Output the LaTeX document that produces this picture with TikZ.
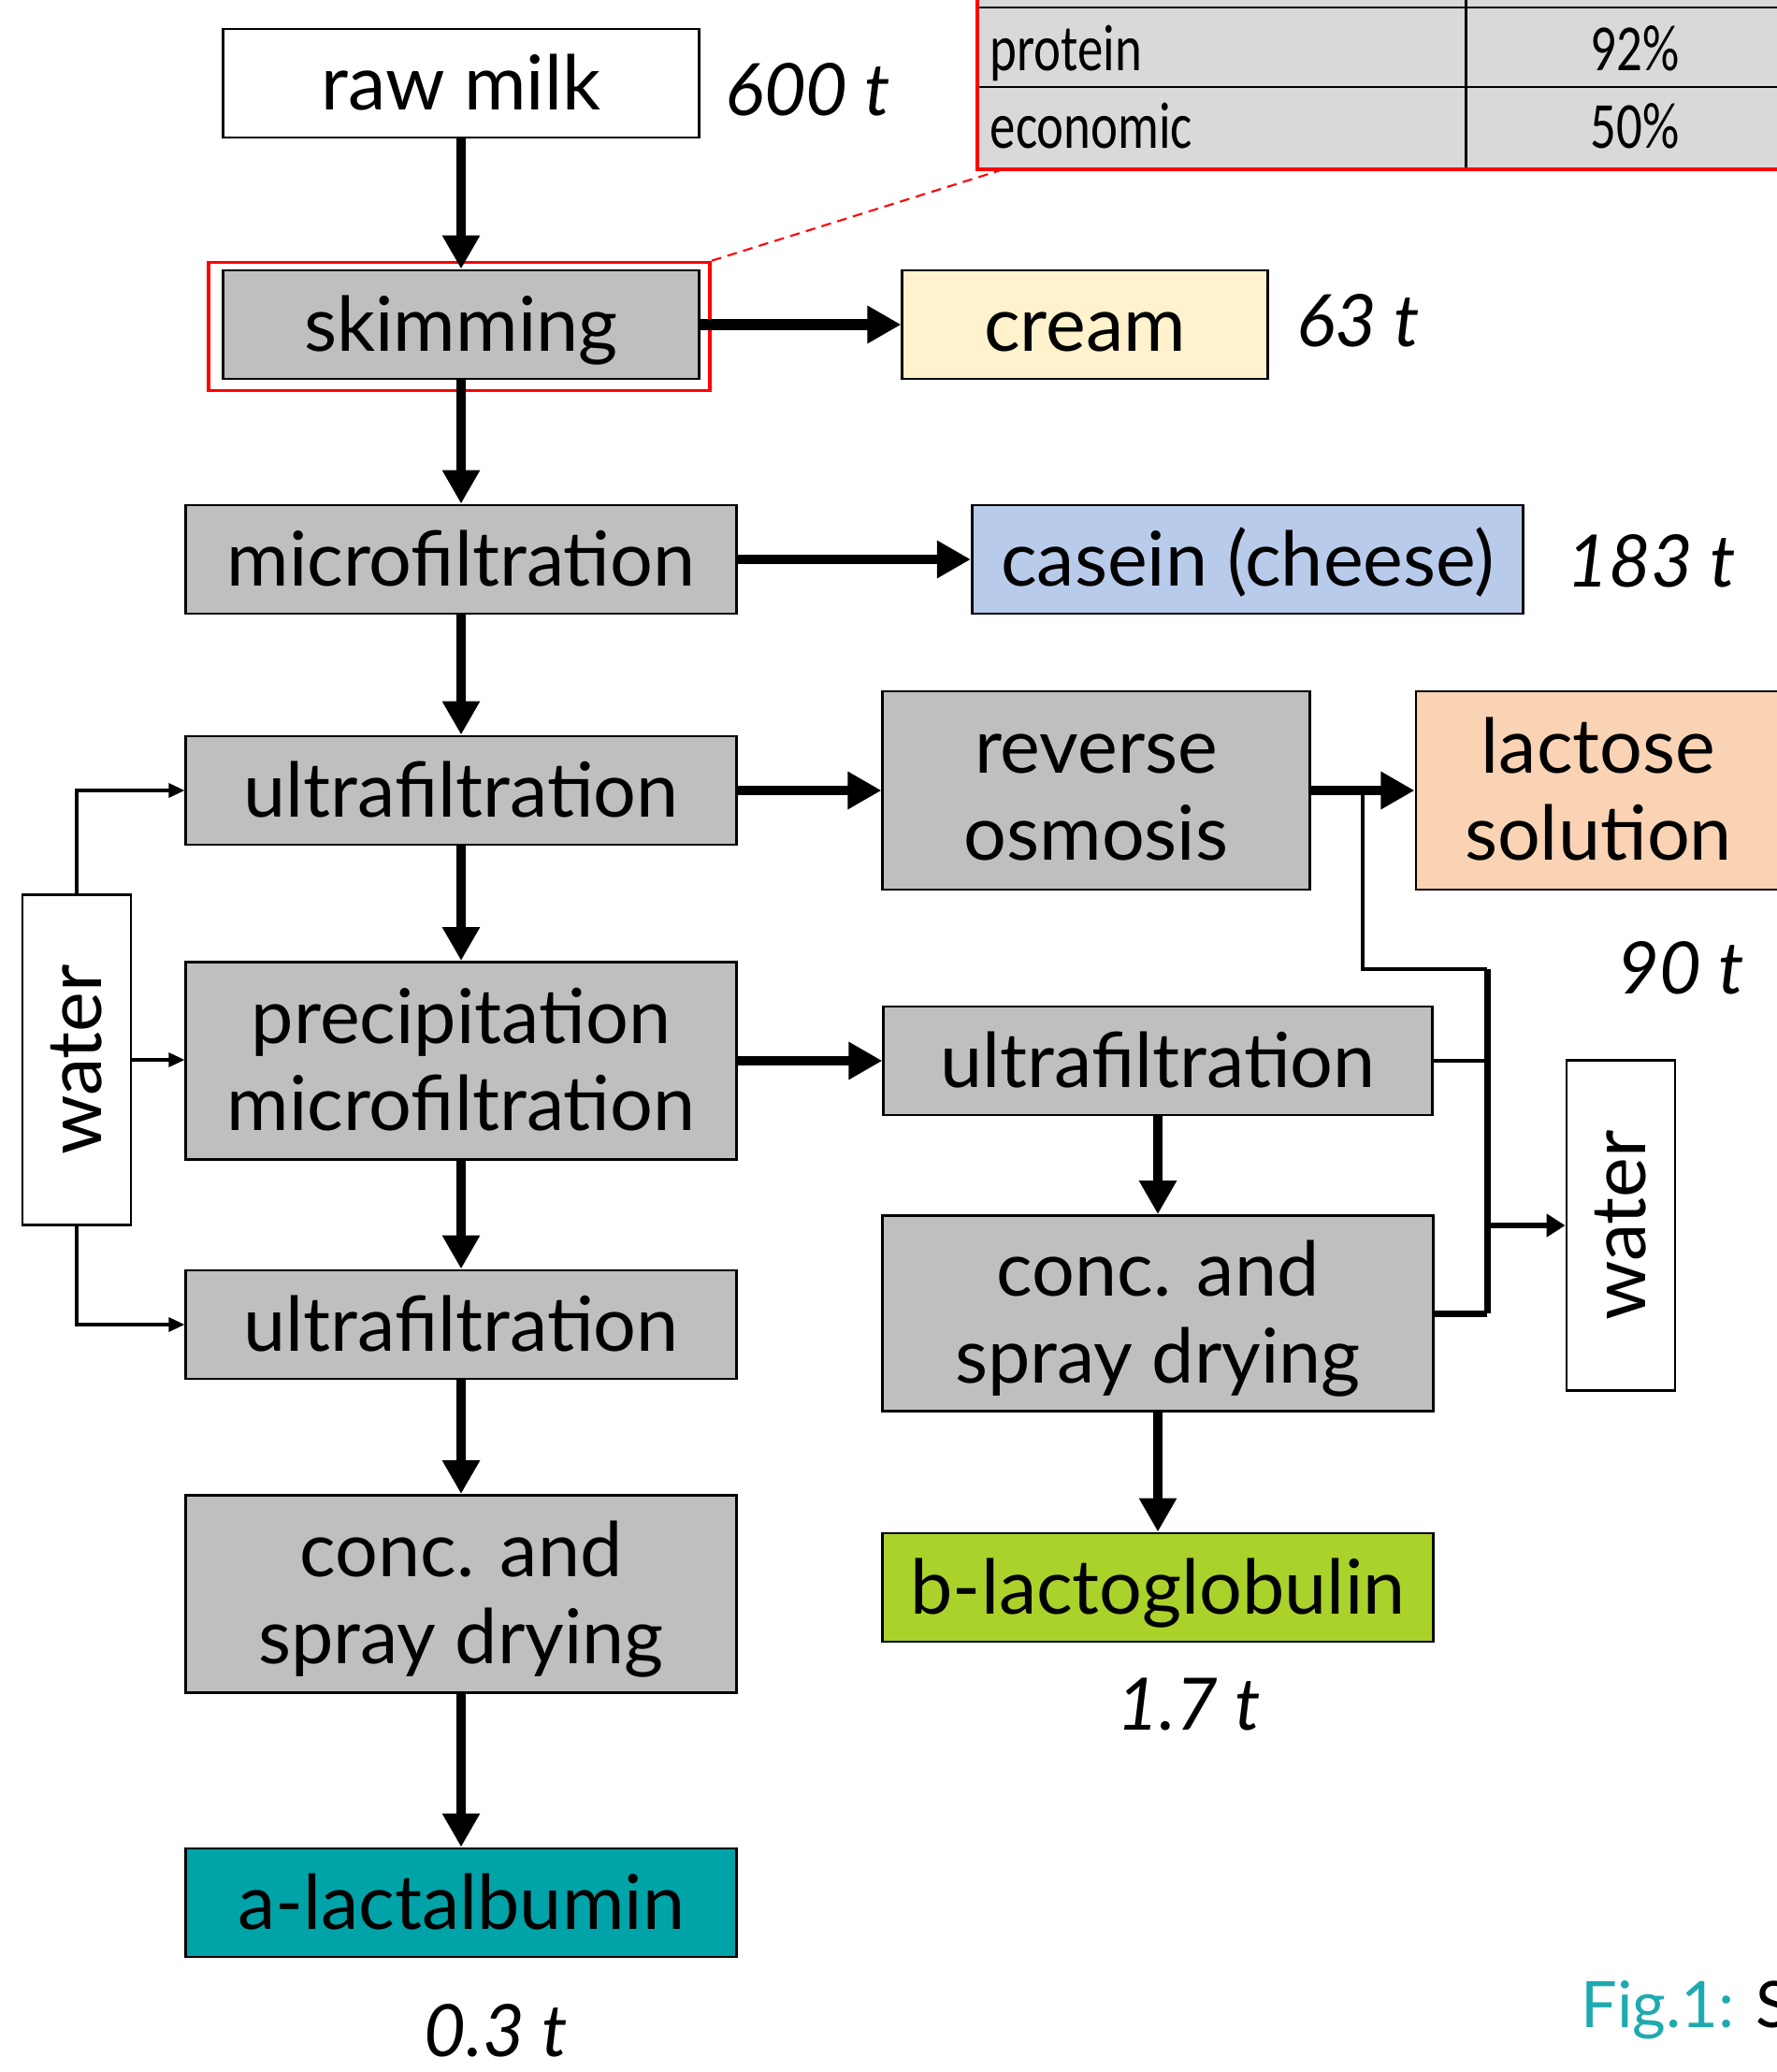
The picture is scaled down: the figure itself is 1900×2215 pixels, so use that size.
\documentclass[tikz,border=0pt]{standalone}
\usepackage{fontspec}
\setmainfont{Lato}
\newfontfamily\tablefont[FakeStretch=0.78]{Carlito}
\usepackage{xcolor}
\usepackage{tikz}
\usetikzlibrary{arrows.meta, positioning, calc}
\definecolor{procgray}{HTML}{BFBFBF}
\definecolor{creamfill}{HTML}{FFF2CC}
\definecolor{caseinfill}{HTML}{B9CBEA}
\definecolor{lactosefill}{HTML}{F9D3B3}
\definecolor{globulinfill}{HTML}{AAD22B}
\definecolor{albuminfill}{HTML}{00A3A7}
\definecolor{tablegray}{HTML}{D9D9D9}
\definecolor{figteal}{HTML}{1FAAAF}
% zweizeiliger Text mit festen Grundlinien
\newcommand{\twolines}[2]{\rule{0pt}{20.7pt}#1\\#2\rule[-5pt]{0pt}{5pt}}

\begin{document}
\begin{tikzpicture}[x=0.01cm, y=-0.01cm, font=\fontsize{23}{26.5}\selectfont]
  \tikzset{
    proc/.style={draw, line width=0.8pt, fill=procgray, inner sep=0pt,
      minimum width=5.88cm, minimum height=1.16cm, text height=0.56cm, text depth=0pt},
    tallproc/.style={draw, line width=0.8pt, fill=procgray, inner sep=0pt,
      minimum width=5.88cm, minimum height=2.11cm, align=center},
    waterbox/.style={draw, line width=0.8pt, fill=white, inner sep=0pt,
      minimum width=1.16cm, minimum height=3.53cm},
    amount/.style={font=\fontsize{22}{26.5}\selectfont\itshape},
    flow/.style={-{Triangle[length=0.36cm, width=0.38cm]}, line width=3pt},
    feed/.style={-{Triangle[length=0.17cm, width=0.15cm]}, line width=0.9pt},
  }
  \useasboundingbox (0, 0) rectangle (1900, 2215);

  % Allokationstabelle (oben abgeschnitten)
  \begin{scope}[font=\tablefont\fontsize{20}{23}\selectfont]
    \fill[tablegray] (1045, -30) rectangle (1950, 181);
    \draw[line width=0.85pt] (1045, 8) -- (1950, 8);
    \draw[line width=0.85pt] (1045, 93) -- (1950, 93);
    \draw[line width=0.85pt] (1567, -30) -- (1567, 181);
    \node[anchor=base west, inner sep=0pt] (protein) at (1058, 75) {protein};
    \node[anchor=base, inner sep=0pt] (proteinval) at (1748, 75) {92\%};
    \node[anchor=base west, inner sep=0pt] (economic) at (1058, 158) {economic};
    \node[anchor=base, inner sep=0pt] (economicval) at (1748, 158) {50\%};
    \draw[red, line width=1.4pt] (1045, -30) rectangle (1950, 181);
    \coordinate (tablecorner) at (1073, 181);
  \end{scope}

  % 1. Hauptlinie links
  \node[proc, fill=white, minimum width=5.08cm] (rawmilk) at (493, 89) {raw milk};
  \node[amount] (rawamount) at (864, 96) {600 t};
  \node[proc, minimum width=5.08cm] (skimming) at (493, 347) {skimming};
  \node[draw=red, line width=1pt, minimum width=5.36cm, minimum height=1.37cm] (skimframe) at (491, 349) {};
  \node[proc] (micro) at (493, 598) {microfiltration};
  \node[proc] (uf1) at (493, 845) {ultrafiltration};
  \node[tallproc] (precip) at (493, 1134) {\twolines{precipitation}{microfiltration}};
  \node[proc] (uf3) at (493, 1416) {ultrafiltration};
  \node[tallproc] (spray1) at (493, 1704) {\twolines{conc. and}{spray drying}};
  \node[proc, fill=albuminfill] (albumin) at (493, 2034) {a-lactalbumin};
  \node[amount] (albuminamount) at (530, 2171) {0.3 t};
  \node[waterbox] (water1) at (82, 1133) {\rotatebox{90}{water}};

  % 2. Nebenprodukte rechts
  \node[proc, fill=creamfill, minimum width=3.9cm] (cream) at (1160, 347) {cream};
  \node[amount] (creamamount) at (1452, 343) {63 t};
  \node[proc, fill=caseinfill, minimum width=5.89cm] (casein) at (1334, 598) {casein (cheese)};
  \node[amount] (caseinamount) at (1766, 600) {183 t};
  \node[tallproc, minimum width=4.56cm, minimum height=2.12cm] (osmosis) at (1172, 845) {\twolines{reverse}{osmosis}};
  \node[tallproc, fill=lactosefill, minimum width=3.9cm, minimum height=2.12cm] (lactose) at (1709, 845) {\twolines{lactose}{solution}};
  \node[amount] (lactoseamount) at (1797, 1035) {90 t};
  \node[proc, minimum width=5.86cm] (uf2) at (1238, 1134) {ultrafiltration};
  \node[tallproc, minimum height=2.09cm] (spray2) at (1238, 1404) {\twolines{conc. and}{spray drying}};
  \node[proc, fill=globulinfill] (globulin) at (1238, 1697) {b-lactoglobulin};
  \node[amount] (globulinamount) at (1271, 1822) {1.7 t};
  \node[waterbox] (water2) at (1733, 1310) {\rotatebox{90}{water}};

  % Pfeile
  \draw[flow] (rawmilk) -- (skimming);
  \draw[flow] (skimming) -- (micro);
  \draw[flow] (micro) -- (uf1);
  \draw[flow] (uf1) -- (precip);
  \draw[flow] (precip) -- (uf3);
  \draw[flow] (uf3) -- (spray1);
  \draw[flow] (spray1) -- (albumin);
  \draw[flow, line width=3.6pt] (skimming) -- (cream);
  \draw[flow] (micro) -- (casein);
  \draw[flow] (uf1) -- (osmosis);
  \draw[flow] (osmosis) -- (lactose);
  \draw[flow] (precip) -- (uf2);
  \draw[flow] (uf2) -- (spray2);
  \draw[flow] (spray2) -- (globulin);
  \draw[red, dashed, dash pattern=on 3pt off 2pt, line width=0.6pt] (skimframe.north east) -- (tablecorner);

  % Wasser zu- und abfuehren
  \draw[feed] (water1.north) |- (uf1.west);
  \draw[feed] (water1.east) -- (water1.east -| precip.west);
  \draw[feed] (water1.south) |- (uf3.west);
  \coordinate (split) at ($(osmosis.east)!0.5!(lactose.west)$);
  \coordinate (collect) at (1590, 1036);
  \draw[line width=1.1pt] (split) |- (collect);
  \draw[line width=2pt] (collect) -- (collect |- spray2.east);
  \draw[line width=1pt] (uf2.east) -- (uf2.east -| collect);
  \draw[line width=2pt] (spray2.east) -- (spray2.east -| collect);
  \draw[-{Triangle[length=0.2cm, width=0.24cm]}, line width=1.6pt] (collect |- water2.west) -- (water2.west);

  \node[anchor=base west, inner sep=0pt, font=\fontsize{19.5}{23}\selectfont] (figcaption) at (1690, 2167) {\textcolor{figteal}{Fig.1:} S};
\end{tikzpicture}
\end{document}
